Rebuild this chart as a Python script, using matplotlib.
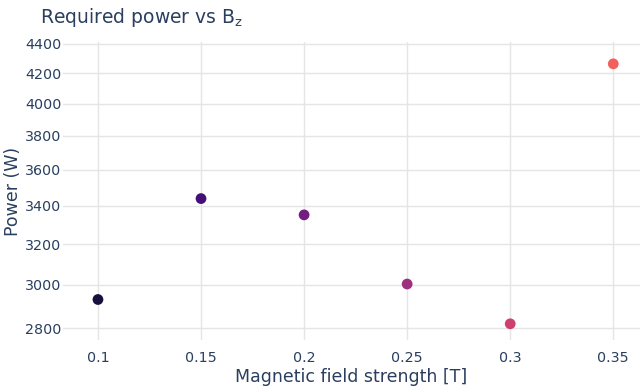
import numpy as np
import matplotlib
matplotlib.use("Agg")
import matplotlib.pyplot as plt
from matplotlib.ticker import NullLocator

# data
field = [0.1, 0.15, 0.2, 0.25, 0.3, 0.35]
power = [2930, 3440, 3352, 3003, 2819, 4262]
colors = ["#180f3d", "#440f76", "#721f81", "#9e2f7f", "#cd4071", "#f1605d"]
yticks = [2800, 3000, 3200, 3400, 3600, 3800, 4000, 4200, 4400]
xticks = [0.1, 0.15, 0.2, 0.25, 0.3, 0.35]
xticklabels = ["0.1", "0.15", "0.2", "0.25", "0.3", "0.35"]

text_color = "#2a3f5f"


def main():
    fig = plt.figure(figsize=(6.42, 3.86), dpi=100)
    ax = fig.add_axes([0.098, 0.119, 0.899, 0.772])

    ax.scatter(field, power, c=colors, s=60, zorder=3, linewidths=0)

    ax.set_yscale("log")
    ax.set_ylim(2747, 4412)
    ax.set_xlim(0.083, 0.363)
    ax.set_yticks(yticks, [str(t) for t in yticks])
    ax.yaxis.set_minor_locator(NullLocator())
    ax.set_xticks(xticks, xticklabels)

    ax.tick_params(axis="both", length=0, labelsize=10.3, colors=text_color)
    ax.tick_params(axis="x", pad=8)
    ax.tick_params(axis="y", pad=1)

    ax.grid(color="#e5e5e5", linewidth=1)
    ax.set_axisbelow(True)
    for s in ax.spines.values():
        s.set_visible(False)

    ax.set_xlabel("Magnetic field strength [T]", fontsize=12.5, color=text_color, labelpad=2)
    ax.set_ylabel("Power (W)", fontsize=12.5, color=text_color, labelpad=2)
    fig.text(0.062, 0.955, r"Required power vs B$_\mathregular{z}$", fontsize=13.5,
             color=text_color, va="center", ha="left")

    plt.savefig("out.png", dpi=100)


if __name__ == "__main__":
    main()
